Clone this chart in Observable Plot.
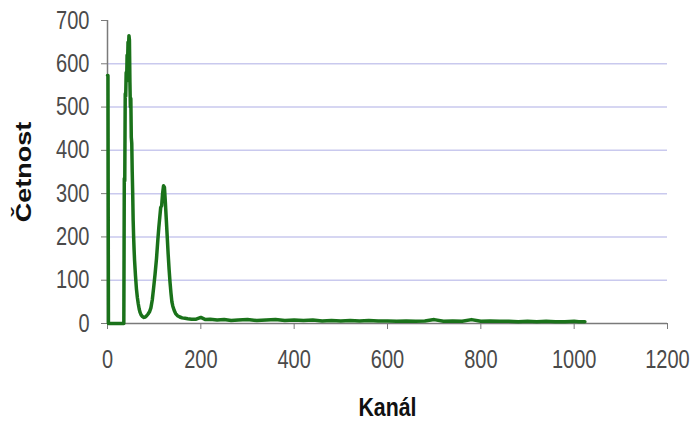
<!DOCTYPE html>
<html>
<head>
<meta charset="utf-8">
<script src="https://cdn.jsdelivr.net/npm/d3@7"></script>
<script src="https://cdn.jsdelivr.net/npm/@observablehq/plot@0.6"></script>
<style>
  html, body { margin: 0; padding: 0; background: #fff; }
</style>
</head>
<body>
<div id="chart"></div>
<script>
const channels = [0, 1, 2, 35, 36, 37, 38, 39, 40, 41, 42, 43, 44, 45, 46, 47, 48, 49, 50, 51, 52, 53, 54, 55, 56, 57, 58, 60, 62, 64, 66, 68, 70, 72, 75, 78, 81, 84, 87, 90, 93, 96, 99, 102, 105, 108, 110, 112, 114, 116, 118, 120, 122, 124, 126, 128, 130, 132, 134, 136, 138, 140, 143, 146, 150, 155, 160, 166, 172, 180, 190, 200, 210, 220, 235, 250, 265, 280, 300, 320, 340, 360, 380, 400, 420, 440, 460, 480, 500, 520, 540, 560, 580, 600, 620, 640, 660, 680, 700, 720, 740, 760, 780, 800, 820, 840, 860, 880, 900, 920, 940, 960, 980, 1000, 1010, 1023];
const counts = [573, 573, 0, 0, 335, 330, 531, 525, 580, 560, 620, 600, 650, 640, 665, 655, 560, 500, 520, 430, 416, 350, 300, 238, 200, 170, 146, 110, 80, 60, 45, 33, 25, 20, 16, 14, 15, 18, 22, 27, 36, 55, 84, 115, 150, 195, 222, 245, 268, 272, 300, 318, 315, 280, 240, 200, 160, 125, 95, 70, 50, 40, 30, 23, 18, 15, 13, 12, 11, 10, 10, 14, 9, 10, 8, 9, 7, 8, 9, 7, 8, 9, 7, 8, 7, 8, 6, 7, 6, 7, 6, 7, 6, 6, 5, 6, 5, 6, 9, 5, 6, 5, 9, 5, 6, 5, 5, 4, 5, 4, 5, 4, 4, 5, 4, 4];
const xTicks = [0, 200, 400, 600, 800, 1000, 1200];
const yTicks = [0, 100, 200, 300, 400, 500, 600, 700];
const gridValues = [100, 200, 300, 400, 500, 600];
const xLabel = "Kanál";
const yLabel = "Četnost";

const data = channels.map((c, i) => ({channel: c, count: counts[i]}));

const axisColor = "#7a7a7a";
const textColor = "#4a4a4a";

const chart = Plot.plot({
  width: 697,
  height: 423,
  marginLeft: 107,
  marginRight: 30,
  marginTop: 20,
  marginBottom: 100,
  style: {
    fontFamily: "'Liberation Sans', Arial, sans-serif",
    fontSize: "25px",
    background: "#fff",
    color: textColor
  },
  x: {domain: [0, 1200]},
  y: {domain: [0, 700]},
  marks: [
    Plot.ruleY(gridValues, {stroke: "#c9c9ee", strokeWidth: 1.5}),
    Plot.ruleY([0], {stroke: axisColor, strokeWidth: 1.5}),
    Plot.ruleX([0], {stroke: axisColor, strokeWidth: 1.5}),
    Plot.axisX({ticks: xTicks, tickFormat: d => String(d), tickSize: 6, tickPadding: 21, stroke: axisColor, fill: textColor,
      label: xLabel, labelAnchor: "center", labelArrow: "none", labelOffset: 92}),
    Plot.axisY({ticks: yTicks, tickFormat: d => String(d), tickSize: 6, tickPadding: 12, stroke: axisColor, fill: textColor,
      label: yLabel, labelAnchor: "center", labelArrow: "none", labelOffset: 92}),
    Plot.line(data, {x: "channel", y: "count", stroke: "#1a721a", strokeWidth: 3.5, strokeLinejoin: "round"})
  ]
});

document.getElementById("chart").appendChild(chart);

const svg = d3.select(chart);
// axis titles: bold, dark
svg.selectAll('[aria-label="x-axis label"] text, [aria-label="y-axis label"] text')
  .attr("font-weight", "bold")
  .attr("fill", "#111");
svg.selectAll('[aria-label="x-axis label"] text').attr("font-size", "26px");
svg.selectAll('[aria-label="y-axis label"] text').attr("font-size", "27px");

// the reference's text is horizontally condensed: squeeze horizontal texts
function squeeze(sel, k) {
  sel.each(function() {
    const len = this.getComputedTextLength();
    this.setAttribute("textLength", (len * k).toFixed(1));
    this.setAttribute("lengthAdjust", "spacingAndGlyphs");
  });
}
squeeze(svg.selectAll('[aria-label="x-axis tick label"] text'), 0.8);
squeeze(svg.selectAll('[aria-label="y-axis tick label"] text'), 0.8);
squeeze(svg.selectAll('[aria-label="x-axis label"] text'), 0.82);
// rotated y title: condense its glyph height (screen x direction)
svg.selectAll('[aria-label="y-axis label"] text').each(function() {
  const t = this.getAttribute("transform") || "";
  this.setAttribute("transform", t + " scale(1,0.8)");
});
</script>
</body>
</html>
